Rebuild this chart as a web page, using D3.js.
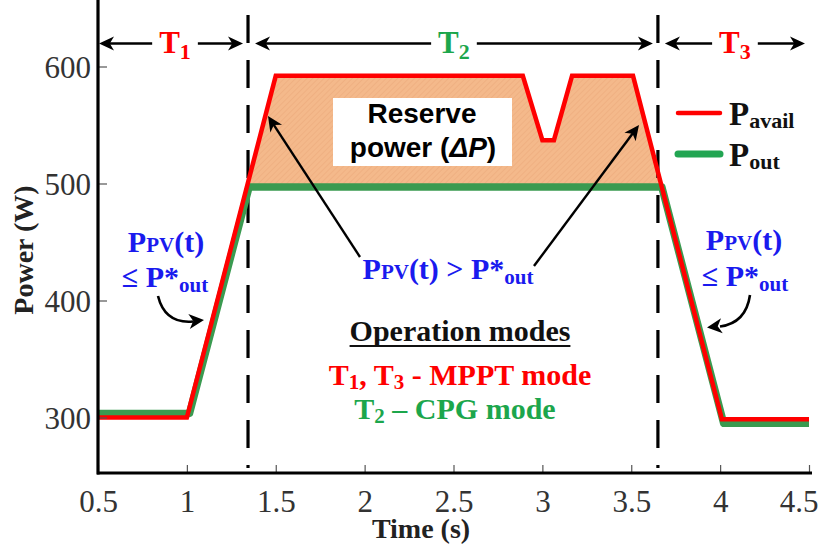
<!DOCTYPE html>
<html>
<head>
<meta charset="utf-8">
<script src="https://cdn.jsdelivr.net/npm/d3@7"></script>
<style>
  body { margin: 0; background: #fff; }
</style>
</head>
<body>
<svg id="chart" width="820" height="550"></svg>
<script>
// ---- data ----
// available PV power (red)
const availTime  = [0.5, 1.0, 1.5, 2.89, 3.0, 3.065, 3.167, 3.51, 4.01, 4.5];
const availPower = [300, 300, 592, 592, 537, 537, 592, 592, 298.5, 298.5];
// delivered output power (green)
const outTime  = [0.5, 1.015, 1.35, 3.672, 4.02, 4.5];
const outPower = [303.5, 303.5, 497, 497, 295, 295];
// operating-mode boundaries (s)
const modeBounds = [1.344, 3.65];
// axis ticks
const xTicks = [0.5, 1, 1.5, 2, 2.5, 3, 3.5, 4, 4.5];
const yTicks = [300, 400, 500, 600];
// interval labels along the top
const phaseNames = ["T", "T", "T"];
const phaseSubs  = ["1", "2", "3"];

const RED = "#ff0000", GREEN_LINE = "#3a9a50", GREEN_TXT = "#1ca64c", BLUE = "#1a1aee";
const SERIF = "'Liberation Serif', 'Times New Roman', serif";
const SANS  = "'Liberation Sans', Arial, sans-serif";

const svg = d3.select("#chart");
const x = d3.scaleLinear().domain([0.5, 4.5]).range([98, 809]);
const y = d3.scaleLinear().domain([300, 600]).range([417.5, 66.5]);
const axisBaseY = 473;

// hatch texture for the reserve region
const defs = svg.append("defs");
const pat = defs.append("pattern").attr("id", "hatch").attr("patternUnits", "userSpaceOnUse")
  .attr("width", 4).attr("height", 4).attr("patternTransform", "rotate(45)");
pat.append("rect").attr("width", 4).attr("height", 4).attr("fill", "#f4b98b");
pat.append("line").attr("x1", 0).attr("y1", 0).attr("x2", 0).attr("y2", 4)
  .attr("stroke", "#eaa879").attr("stroke-width", 1);

// region where available power exceeds the constant output level
function reservePolygon(ts, vs, level) {
  const pts = [];
  for (let i = 0; i < ts.length - 1; i++) {
    const t0 = ts[i], t1 = ts[i + 1], v0 = vs[i], v1 = vs[i + 1];
    if (v0 >= level) pts.push([t0, v0]);
    if ((v0 - level) * (v1 - level) < 0) {
      const f = (level - v0) / (v1 - v0);
      pts.push([t0 + f * (t1 - t0), level]);
    }
  }
  if (vs[vs.length - 1] >= level) pts.push([ts[ts.length - 1], vs[vs.length - 1]]);
  return pts;
}
const cpgLevel = outPower[2];
const reserve = reservePolygon(availTime, availPower, cpgLevel);
svg.append("path")
  .attr("d", d3.area().x(d => x(d[0])).y0(y(cpgLevel)).y1(d => y(d[1]))(reserve))
  .attr("fill", "url(#hatch)");

// mode boundary lines
svg.selectAll("line.bound").data(modeBounds).join("line")
  .attr("class", "bound")
  .attr("x1", d => x(d)).attr("x2", d => x(d))
  .attr("y1", 15).attr("y2", 468)
  .attr("stroke", "#000").attr("stroke-width", 3.2)
  .attr("stroke-dasharray", "28,17");

// power traces
const line = d3.line().x(d => x(d[0])).y(d => y(d[1]));
svg.append("path").datum(d3.zip(outTime, outPower)).attr("d", line)
  .attr("fill", "none").attr("stroke", GREEN_LINE).attr("stroke-width", 7.5)
  .attr("stroke-linejoin", "round");
svg.append("path").datum(d3.zip(availTime, availPower)).attr("d", line)
  .attr("fill", "none").attr("stroke", RED).attr("stroke-width", 4.5)
  .attr("stroke-linejoin", "miter");

// reserve label box
svg.append("rect").attr("x", 333).attr("y", 98).attr("width", 179).attr("height", 68).attr("fill", "#fff");
svg.append("text").attr("x", 422).attr("y", 123).attr("text-anchor", "middle")
  .attr("font-family", SANS).attr("font-weight", "bold").attr("font-size", 28).text("Reserve");
const rp = svg.append("text").attr("x", 423).attr("y", 157).attr("text-anchor", "middle")
  .attr("font-family", SANS).attr("font-weight", "bold").attr("font-size", 28);
rp.append("tspan").text("power (");
rp.append("tspan").attr("font-style", "italic").text("ΔP");
rp.append("tspan").text(")");

// ---- axes ----
const xAxis = d3.axisBottom(x).tickValues(xTicks).tickSizeInner(-8).tickSizeOuter(0)
  .tickFormat(d3.format("~g"));
const gx = svg.append("g").attr("transform", `translate(0,${axisBaseY})`).call(xAxis);
gx.select(".domain").remove();
gx.selectAll(".tick line").attr("stroke", "#555").attr("stroke-width", 1.2);
gx.selectAll(".tick text").attr("y", 39).attr("dy", null)
  .attr("font-family", SERIF).attr("font-size", 31).attr("fill", "#333");
// keep the last label inside the frame
gx.selectAll(".tick text").filter(d => d === xTicks[xTicks.length - 1])
  .attr("text-anchor", "end").attr("x", 818 - x(xTicks[xTicks.length - 1]));

const yAxis = d3.axisLeft(y).tickValues(yTicks).tickSizeInner(-9).tickSizeOuter(0);
const gy = svg.append("g").attr("transform", "translate(98,0)").call(yAxis);
gy.select(".domain").remove();
gy.selectAll(".tick line").attr("stroke", "#555").attr("stroke-width", 1.2);
gy.selectAll(".tick text").attr("x", -7).attr("dy", "0.34em")
  .attr("font-family", SERIF).attr("font-size", 31).attr("fill", "#333");

svg.append("line").attr("x1", 97).attr("x2", 812).attr("y1", axisBaseY).attr("y2", axisBaseY)
  .attr("stroke", "#000").attr("stroke-width", 3.2);
svg.append("line").attr("x1", 98).attr("x2", 98).attr("y1", 0).attr("y2", axisBaseY + 1.6)
  .attr("stroke", "#000").attr("stroke-width", 3.2);

svg.append("text").attr("transform", "translate(33,250) rotate(-90)").attr("text-anchor", "middle")
  .attr("font-family", SERIF).attr("font-weight", "bold").attr("font-size", 28).attr("fill", "#222")
  .text("Power (W)");
svg.append("text").attr("x", 421).attr("y", 538).attr("text-anchor", "middle")
  .attr("font-family", SERIF).attr("font-weight", "bold").attr("font-size", 28).attr("fill", "#222")
  .text("Time (s)");

// ---- arrow helpers ----
function arrowHead(g, tip, angleDeg, len = 15, half = 7) {
  g.append("path")
    .attr("d", `M0,0L${-len},${-half}L${-len * 0.72},0L${-len},${half}Z`)
    .attr("transform", `translate(${tip[0]},${tip[1]}) rotate(${angleDeg})`)
    .attr("fill", "#000");
}
function straightArrow(g, from, tip, w = 2.4) {
  const dx = tip[0] - from[0], dy = tip[1] - from[1];
  const L = Math.hypot(dx, dy), ang = Math.atan2(dy, dx);
  const end = [tip[0] - dx / L * 10, tip[1] - dy / L * 10];
  g.append("line").attr("x1", from[0]).attr("y1", from[1]).attr("x2", end[0]).attr("y2", end[1])
    .attr("stroke", "#000").attr("stroke-width", w);
  arrowHead(g, tip, ang * 180 / Math.PI);
}
function curvedArrow(g, start, ctrl, end, tip) {
  g.append("path").attr("d", `M${start}Q${ctrl} ${end}`)
    .attr("fill", "none").attr("stroke", "#000").attr("stroke-width", 2.6);
  const ang = Math.atan2(tip[1] - ctrl[1], tip[0] - ctrl[0]) * 180 / Math.PI;
  arrowHead(g, tip, ang, 15, 7.5);
}

// ---- interval arrows on top ----
const arrowsG = svg.append("g");
const spans = [[0.5, modeBounds[0]], [modeBounds[0], modeBounds[1]], [modeBounds[1], 4.5]];
const phaseColors = [RED, GREEN_TXT, RED];
const arrowY = 43.5;
spans.forEach((s, i) => {
  const left = x(s[0]) + (i === 0 ? 1 : 7);
  const right = x(s[1]) - (i === spans.length - 1 ? 4 : 5);
  const cx = (left + right) / 2 + (i === 0 ? 4 : 0);
  const t = arrowsG.append("text").attr("x", cx).attr("y", arrowY + 9).attr("text-anchor", "middle")
    .attr("font-family", SERIF).attr("font-weight", "bold").attr("fill", phaseColors[i]);
  t.append("tspan").attr("font-size", 31).text(phaseNames[i]);
  t.append("tspan").attr("font-size", 22).attr("dy", 6).text(phaseSubs[i]);
  const half = t.node().getComputedTextLength() / 2 + 7;
  arrowsG.append("line").attr("x1", left + 8).attr("x2", cx - half).attr("y1", arrowY).attr("y2", arrowY)
    .attr("stroke", "#000").attr("stroke-width", 2.4);
  arrowsG.append("line").attr("x1", cx + half).attr("x2", right - 8).attr("y1", arrowY).attr("y2", arrowY)
    .attr("stroke", "#000").attr("stroke-width", 2.4);
  arrowHead(arrowsG, [left, arrowY], 180);
  arrowHead(arrowsG, [right, arrowY], 0);
});

// ---- legend ----
const leg = svg.append("g");
[[RED, 4.5, 113, "avail"], ["#22a552", 7, 154, "out"]].forEach(([c, w, ly, sub], i) => {
  leg.append("line").attr("x1", 678).attr("x2", 720).attr("y1", ly).attr("y2", ly)
    .attr("stroke", c).attr("stroke-width", w).attr("stroke-linecap", "round");
  const t = leg.append("text").attr("x", 729).attr("y", ly + 12)
    .attr("font-family", SERIF).attr("font-weight", "bold").attr("fill", "#111");
  t.append("tspan").attr("font-size", 33).text("P");
  t.append("tspan").attr("font-size", 22).attr("dy", 3).text(sub);
});

// ---- annotations ----
const ann = svg.append("g").attr("font-family", SERIF).attr("font-weight", "bold");
function ppvText(cx, yy) {
  const t = ann.append("text").attr("x", cx).attr("y", yy).attr("text-anchor", "middle").attr("fill", BLUE);
  t.append("tspan").attr("font-size", 30).text("P");
  t.append("tspan").attr("font-size", 21).text("PV");
  t.append("tspan").attr("font-size", 30).text("(t)");
  return t;
}
function leText(cx, yy) {
  const t = ann.append("text").attr("x", cx).attr("y", yy).attr("text-anchor", "middle").attr("fill", BLUE);
  t.append("tspan").attr("font-size", 30).text("≤ P*");
  t.append("tspan").attr("font-size", 21).attr("dy", 5).text("out");
  return t;
}
ppvText(166, 252); leText(165, 287);
ppvText(744, 250); leText(745, 286);

const mid = ann.append("text").attr("x", 448).attr("y", 279).attr("text-anchor", "middle").attr("fill", BLUE);
mid.append("tspan").attr("font-size", 30).text("P");
mid.append("tspan").attr("font-size", 21).text("PV");
mid.append("tspan").attr("font-size", 30).text("(t) > P*");
mid.append("tspan").attr("font-size", 21).attr("dy", 5).text("out");

const arr = svg.append("g");
straightArrow(arr, [360, 257], [268, 116]);
straightArrow(arr, [534, 266], [639, 125]);
curvedArrow(arr, [158, 296], [165, 324], [193, 321.5], [204, 320]);
curvedArrow(arr, [750, 295], [746, 323], [720, 326.5], [707, 327.5]);

// operation modes text
const om = ann.append("text").attr("x", 460).attr("y", 341).attr("text-anchor", "middle")
  .attr("font-size", 30).attr("fill", "#111").text("Operation modes");
const omw = om.node().getComputedTextLength();
ann.append("line").attr("x1", 460 - omw / 2).attr("x2", 460 + omw / 2).attr("y1", 346).attr("y2", 346)
  .attr("stroke", "#111").attr("stroke-width", 2);

const m1 = ann.append("text").attr("x", 460).attr("y", 385).attr("text-anchor", "middle").attr("fill", RED);
m1.append("tspan").attr("font-size", 30).text("T");
m1.append("tspan").attr("font-size", 21).attr("dy", 4).text("1");
m1.append("tspan").attr("font-size", 30).attr("dy", -4).text(", T");
m1.append("tspan").attr("font-size", 21).attr("dy", 4).text("3");
m1.append("tspan").attr("font-size", 30).attr("dy", -4).text(" - MPPT mode");

const m2 = ann.append("text").attr("x", 455).attr("y", 419).attr("text-anchor", "middle").attr("fill", GREEN_TXT);
m2.append("tspan").attr("font-size", 30).text("T");
m2.append("tspan").attr("font-size", 21).attr("dy", 4).text("2");
m2.append("tspan").attr("font-size", 30).attr("dy", -4).text(" – CPG mode");
</script>
</body>
</html>
